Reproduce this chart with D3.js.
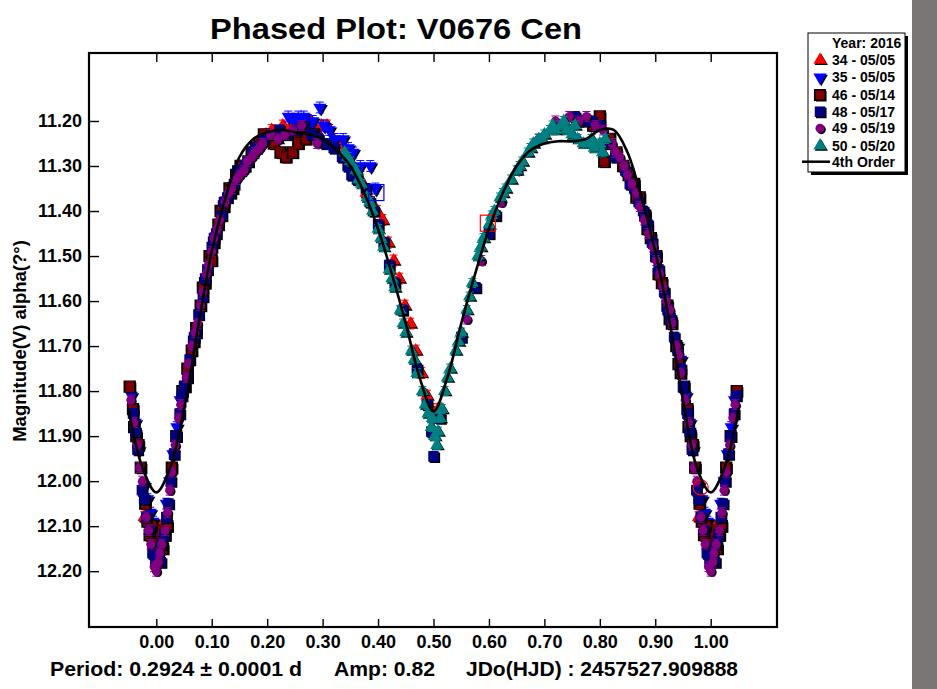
<!DOCTYPE html>
<html>
<head>
<meta charset="utf-8">
<script src="https://cdn.jsdelivr.net/npm/d3@7"></script>
<style>
body { margin: 0; background: #ffffff; }
svg { display: block; font-family: 'Liberation Sans', Arial, sans-serif; font-weight: bold; }
</style>
</head>
<body>
<svg id="chart" width="937" height="689"></svg>
<script>
// ---- chart texts ----
var strTitle = 'Phased Plot: V0676 Cen';
var strAxisY = 'Magnitude(V) alpha(?°)';
var strLegendTitle = 'Year: 2016';
var strFitLabel = '4th Order';
var aFooter = ['Period: 0.2924 \u00b1 0.0001 d', 'Amp: 0.82', 'JDo(HJD) : 2457527.909888'];

// ---- ticks ----
var aTicksX = [0.00, 0.10, 0.20, 0.30, 0.40, 0.50, 0.60, 0.70, 0.80, 0.90, 1.00];
var aTicksY = [11.20, 11.30, 11.40, 11.50, 11.60, 11.70, 11.80, 11.90, 12.00, 12.10, 12.20];

// ---- series (night - date) ----
var aSeriesLabels = ['34 - 05/05', '35 - 05/05', '46 - 05/14', '48 - 05/17', '49 - 05/19', '50 - 05/20'];

// observations [phase, magnitude]
var aObs34 = [[0.978,12.08],[0.988,12.11],[0.996,12.12],[0.004,12.10],[0.010,12.12],[0.016,12.10],
	[0.198,11.23],[0.208,11.22],[0.218,11.24],[0.228,11.21],[0.238,11.22],[0.248,11.23],[0.258,11.21],
	[0.268,11.22],[0.278,11.20],[0.288,11.22],[0.298,11.21],[0.308,11.21],[0.318,11.24],[0.328,11.25],
	[0.338,11.27],[0.348,11.29],[0.358,11.31],[0.368,11.33],[0.378,11.36],[0.388,11.38],[0.398,11.40],
	[0.408,11.42],[0.418,11.47],[0.428,11.51],[0.438,11.55],[0.448,11.61],[0.458,11.65],[0.468,11.71],
	[0.478,11.76],[0.488,11.81],[0.496,11.84],[0.502,11.86],[0.508,11.84]];

var aObs35 = [[0.238,11.19],[0.248,11.20],[0.256,11.19],[0.266,11.19],[0.274,11.21],[0.282,11.20],
	[0.295,11.17],[0.302,11.21],[0.312,11.22],[0.322,11.24],[0.337,11.24],[0.346,11.26],[0.355,11.27],
	[0.368,11.30],[0.386,11.30],[0.395,11.35],
	[0.940,11.70],[0.946,11.73],[0.955,11.81],[0.962,11.87],[0.968,11.93],[0.978,12.01],[0.984,12.04],
	[0.989,12.07],[0.994,12.09],[0.018,12.05],[0.024,12.00],[0.030,11.94],[0.037,11.88],[0.043,11.82]];

var aObs46 = [[0.000,12.17],[0.006,12.13],[0.012,12.15],[0.020,12.10],[0.028,11.97],[0.036,11.90],
	[0.047,11.80],[0.056,11.75],[0.064,11.71],[0.072,11.66],[0.080,11.61],[0.088,11.56],[0.096,11.50],
	[0.104,11.47],[0.112,11.43],[0.122,11.39],[0.132,11.35],[0.144,11.32],[0.158,11.30],[0.172,11.27],
	[0.186,11.25],[0.200,11.24],[0.212,11.25],[0.224,11.27],[0.234,11.28],[0.246,11.27],[0.256,11.25],
	[0.270,11.24],[0.284,11.23],
	[0.052,11.79],[0.068,11.69],[0.084,11.57],[0.100,11.51],[0.116,11.40],[0.138,11.35],[0.152,11.30],
	[0.166,11.29],[0.180,11.26],[0.194,11.23],[0.004,12.11],[0.016,12.12],
	[0.760,11.20],[0.788,11.21],[0.800,11.19],[0.808,11.29],[0.818,11.24],[0.830,11.27],[0.842,11.30],
	[0.852,11.32],[0.862,11.34],[0.872,11.37],[0.882,11.41],[0.892,11.46],[0.902,11.50],[0.912,11.56],
	[0.922,11.61],[0.930,11.65],[0.938,11.70],[0.946,11.76],[0.952,11.79],[0.958,11.84],[0.964,11.90],
	[0.972,11.97],[0.980,12.05],[0.988,12.12],[0.995,12.14],
	[0.866,11.37],[0.886,11.44],[0.906,11.54],[0.926,11.64],[0.942,11.74],[0.960,11.88],[0.968,11.92],
	[0.984,12.09],[0.992,12.10]];

var aObs48 = [[0.002,12.16],[0.008,12.18],[0.014,12.12],[0.022,12.05],[0.032,11.94],[0.042,11.85],
	[0.050,11.79],[0.060,11.73],[0.068,11.68],[0.076,11.63],[0.084,11.59],[0.092,11.53],[0.100,11.48],
	[0.108,11.45],[0.118,11.41],[0.128,11.37],[0.140,11.34],[0.152,11.31],[0.166,11.29],[0.180,11.26],
	[0.194,11.24],[0.208,11.23],[0.222,11.22],[0.236,11.23],[0.252,11.22],[0.266,11.21],[0.280,11.23],
	[0.292,11.24],[0.305,11.25],[0.320,11.26],[0.335,11.28],[0.345,11.30],[0.352,11.32],[0.362,11.33],
	[0.378,11.35],[0.385,11.38],[0.392,11.40],[0.400,11.43],[0.410,11.47],[0.420,11.52],[0.430,11.56],
	[0.444,11.62],[0.470,11.75],[0.488,11.83],[0.496,11.89],[0.500,11.945],[0.512,11.86],[0.550,11.68],
	[0.576,11.57],[0.600,11.45],[0.612,11.41],
	[0.046,11.81],[0.056,11.77],[0.072,11.67],[0.088,11.55],[0.104,11.46],[0.122,11.38],[0.134,11.36],
	[0.146,11.31],[0.160,11.30],[0.174,11.27],[0.010,12.14],[0.018,12.08],[0.026,12.00],[0.036,11.90],
	[0.730,11.21],[0.755,11.19],[0.770,11.20],[0.785,11.20],[0.800,11.21],[0.814,11.25],[0.828,11.28],
	[0.846,11.31],[0.862,11.35],[0.878,11.40],[0.894,11.47],[0.906,11.53],[0.916,11.58],[0.928,11.64],
	[0.940,11.71],[0.950,11.79],[0.958,11.85],[0.966,11.93],[0.974,12.02],[0.982,12.08],[0.988,12.11],
	[0.993,12.16],[0.998,12.18],
	[0.854,11.34],[0.870,11.38],[0.886,11.43],[0.900,11.50],[0.922,11.62],[0.934,11.68],[0.946,11.75],
	[0.962,11.89],[0.978,12.04]];

var aObs49 = [[0.000,12.20],[0.004,12.18],[0.010,12.14],[0.016,12.11],[0.024,12.02],[0.034,11.92],
	[0.044,11.83],[0.054,11.77],[0.064,11.70],[0.074,11.65],[0.084,11.58],[0.094,11.52],[0.104,11.46],
	[0.114,11.42],[0.124,11.38],[0.136,11.35],[0.150,11.32],[0.164,11.29],[0.178,11.27],[0.192,11.25],
	[0.206,11.23],[0.220,11.24],[0.232,11.23],[0.246,11.22],[0.262,11.21],[0.290,11.25],
	[0.040,11.86],[0.058,11.74],[0.070,11.67],[0.080,11.61],[0.090,11.54],[0.100,11.49],[0.110,11.44],
	[0.130,11.36],[0.144,11.33],[0.158,11.31],[0.172,11.28],[0.186,11.26],[0.006,12.16],[0.020,12.07],
	[0.028,11.98],
	[0.560,11.64],[0.586,11.51],[0.622,11.38],[0.652,11.31],[0.690,11.24],[0.720,11.20],[0.745,11.19],
	[0.762,11.20],[0.776,11.19],[0.792,11.21],[0.806,11.22],[0.822,11.25],[0.836,11.28],[0.850,11.32],
	[0.866,11.36],[0.880,11.42],[0.896,11.48],[0.908,11.54],[0.920,11.60],[0.930,11.65],[0.938,11.70],
	[0.946,11.76],[0.954,11.82],[0.960,11.87],[0.966,11.92],[0.975,12.00],[0.982,12.08],[0.990,12.14],
	[0.996,12.19],
	[0.828,11.27],[0.844,11.30],[0.858,11.34],[0.872,11.39],[0.888,11.45],[0.902,11.51],[0.914,11.57],
	[0.926,11.62],[0.942,11.72],[0.970,11.97],[0.986,12.11]];

var aObs50 = [[0.340,11.27],[0.350,11.29],[0.360,11.31],[0.370,11.34],[0.380,11.37],[0.390,11.40],
	[0.400,11.44],[0.410,11.48],[0.420,11.53],[0.430,11.57],[0.440,11.62],[0.450,11.67],[0.460,11.71],
	[0.470,11.76],[0.480,11.80],[0.490,11.85],[0.496,11.88],[0.502,11.90],[0.506,11.92],[0.512,11.86],
	[0.520,11.80],[0.530,11.75],[0.540,11.71],[0.550,11.67],[0.560,11.62],[0.570,11.56],[0.580,11.50],
	[0.590,11.46],[0.600,11.43],[0.610,11.40],[0.620,11.37],[0.630,11.35],[0.640,11.33],[0.650,11.31],
	[0.660,11.29],[0.670,11.27],[0.680,11.25],[0.690,11.24],[0.700,11.23],[0.710,11.22],[0.720,11.22],
	[0.730,11.21],[0.740,11.22],[0.750,11.23],[0.760,11.24],[0.770,11.25],[0.780,11.25],[0.790,11.26],
	[0.800,11.25],[0.810,11.24],
	[0.345,11.28],[0.365,11.33],[0.385,11.38],[0.405,11.46],[0.425,11.55],[0.445,11.65],[0.465,11.73],
	[0.485,11.83],[0.498,11.86],[0.508,11.89],[0.515,11.84],[0.525,11.77],[0.545,11.69],[0.565,11.59],
	[0.585,11.48],[0.605,11.41],[0.625,11.36],[0.655,11.30],[0.675,11.26],[0.695,11.24],[0.715,11.21],
	[0.735,11.20],[0.755,11.21],[0.785,11.24],[0.805,11.27]];

// typical error of one observation, per series (mag)
var aObsErr = [0.012, 0.012, 0.011, 0.011, 0.011, 0.010];

// highlighted (open) points [series index, phase, magnitude]
var aOpenPoints = [[1, 0.397, 11.359], [0, 0.598, 11.427], [0, 0.982, 12.014]];

// 4th order fit curve
var aFitPhase = [-0.050,-0.025,0.000,0.025,0.050,0.075,0.100,0.125,0.150,0.175,0.200,0.225,0.250,0.275,
	0.300,0.325,0.350,0.375,0.400,0.425,0.450,0.475,0.500,0.525,0.550,0.575,0.600,0.625,0.650,0.675,
	0.700,0.725,0.750,0.775,0.800,0.825,0.850,0.875,0.900,0.925,0.950,0.975,1.000,1.025,1.050];
var aFitMag = [11.84,11.97,12.025,11.97,11.84,11.66,11.49,11.37,11.28,11.24,11.225,11.22,11.225,11.23,
	11.24,11.265,11.30,11.36,11.44,11.54,11.65,11.77,11.845,11.77,11.65,11.54,11.44,11.36,11.30,11.265,
	11.25,11.245,11.245,11.24,11.22,11.22,11.27,11.37,11.49,11.64,11.82,11.97,12.025,11.97,11.84];

// ---- styles ----
var aSeriesColors = ['#ff0000', '#0000ff', '#800000', '#000080', '#800080', '#008080'];
var aSeriesShapes = ['up', 'down', 'square', 'square', 'circle', 'up'];
var aOpenShapes = ['square', 'square', 'circle'];

var aSeriesObs = [aObs34, aObs35, aObs46, aObs48, aObs49, aObs50];

var nPlotLeft = 89, nPlotRight = 777, nPlotTop = 53, nPlotBottom = 627;

var sSvg = d3.select('#chart');

var scaleX = d3.scaleLinear()
	.domain([-0.1214, 1.1196])
	.range([nPlotLeft, nPlotRight]);

var scaleY = d3.scaleLinear()
	.domain([11.049, 12.324])
	.range([nPlotTop, nPlotBottom]);

// right hand grey strip
sSvg.append('rect')
	.attr('x', 912).attr('y', 0)
	.attr('width', 25).attr('height', 689)
	.attr('fill', '#7b7676');

// title
sSvg.append('text')
	.attr('x', 210).attr('y', 39)
	.attr('font-size', 30)
	.attr('textLength', 372)
	.attr('lengthAdjust', 'spacingAndGlyphs')
	.text(strTitle);

// axes
var axisBottom = d3.axisBottom(scaleX)
	.tickValues(aTicksX)
	.tickSizeInner(-8).tickSizeOuter(0)
	.tickPadding(8)
	.tickFormat(d3.format('.2f'));

var axisTop = d3.axisTop(scaleX)
	.tickValues(aTicksX)
	.tickSizeInner(-9).tickSizeOuter(0)
	.tickFormat('');

var axisLeft = d3.axisLeft(scaleY)
	.tickValues(aTicksY)
	.tickSizeInner(-10).tickSizeOuter(0)
	.tickPadding(7)
	.tickFormat(d3.format('.2f'));

function StyleAxis(sAxis)
{
	sAxis.select('.domain').remove();
	sAxis.selectAll('.tick line').attr('stroke', '#000').attr('stroke-width', 1.4);
	sAxis.selectAll('.tick text')
		.attr('fill', '#000')
		.attr('font-size', 18)
		.attr('font-family', "'Liberation Sans', Arial, sans-serif")
		.attr('font-weight', 'bold');
}

var sAxisX = sSvg.append('g')
	.attr('transform', 'translate(0,' + nPlotBottom + ')')
	.call(axisBottom);
StyleAxis(sAxisX);

var sAxisTop = sSvg.append('g')
	.attr('transform', 'translate(0,' + nPlotTop + ')')
	.call(axisTop);
StyleAxis(sAxisTop);

var sAxisY = sSvg.append('g')
	.attr('transform', 'translate(' + nPlotLeft + ',0)')
	.call(axisLeft);
StyleAxis(sAxisY);

// y axis title
sSvg.append('text')
	.attr('transform', 'translate(26,341) rotate(-90)')
	.attr('text-anchor', 'middle')
	.attr('font-size', 18.5)
	.text(strAxisY);

// footer
var aFooterX = [50, 334, 466];
var aFooterLen = [252, 101, 272];
aFooter.forEach(function(strText, nIndex)
{
	sSvg.append('text')
		.attr('x', aFooterX[nIndex]).attr('y', 676)
		.attr('font-size', 21)
		.attr('textLength', aFooterLen[nIndex])
		.attr('lengthAdjust', 'spacingAndGlyphs')
		.text(strText);
});

// ---- data ----
function ExpandPhases(aObs)
{
	// points near the ends are repeated one cycle away
	var aOut = [];
	aObs.forEach(function(pt)
	{
		aOut.push([pt[0], pt[1]]);
		if (pt[0] < 0.05) aOut.push([pt[0] + 1, pt[1]]);
		if (pt[0] > 0.95) aOut.push([pt[0] - 1, pt[1]]);
	});
	return aOut;
}

function SymbolPath(strShape)
{
	if (strShape == 'square') return d3.symbol().type(d3.symbolSquare).size(110)();
	if (strShape == 'circle') return d3.symbol().type(d3.symbolCircle).size(65)();
	return d3.symbol().type(d3.symbolTriangle).size(75)();
}

var sPlot = sSvg.append('g');

aSeriesObs.forEach(function(aObs, nSeries)
{
	var aPoints = ExpandPhases(aObs);
	var strColor = aSeriesColors[nSeries];
	var strShape = aSeriesShapes[nSeries];
	var strPath = SymbolPath(strShape);
	var fErr = aObsErr[nSeries];
	var sSeries = sPlot.append('g');

	function PointTransform(pt, nOffset)
	{
		var strRot = (strShape == 'down') ? ' rotate(180)' : '';
		return 'translate(' + (scaleX(pt[0]) + nOffset) + ',' + (scaleY(pt[1]) + nOffset) + ')' + strRot;
	}

	// shadow
	sSeries.selectAll('.shadow')
		.data(aPoints)
		.enter()
		.append('path')
			.attr('class', 'shadow')
			.attr('d', strPath)
			.attr('fill', '#000')
			.attr('transform', function(pt) { return PointTransform(pt, 1.4); });

	sSeries.selectAll('.mark')
		.data(aPoints)
		.enter()
		.append('path')
			.attr('class', 'mark')
			.attr('d', strPath)
			.attr('fill', strColor)
			.attr('stroke', nSeries == 2 ? '#000' : 'none')
			.attr('stroke-width', 1.8)
			.attr('transform', function(pt) { return PointTransform(pt, 0); });

	// error bars
	var sBars = sSeries.selectAll('.err')
		.data(aPoints)
		.enter()
		.append('g')
			.attr('class', 'err')
			.attr('stroke', strColor)
			.attr('stroke-width', 1);
	sBars.append('line')
		.attr('x1', function(pt) { return scaleX(pt[0]); })
		.attr('x2', function(pt) { return scaleX(pt[0]); })
		.attr('y1', function(pt) { return scaleY(pt[1] - fErr); })
		.attr('y2', function(pt) { return scaleY(pt[1] + fErr); });
	[-1, 1].forEach(function(nSign)
	{
		sBars.append('line')
			.attr('x1', function(pt) { return scaleX(pt[0]) - 4; })
			.attr('x2', function(pt) { return scaleX(pt[0]) + 4; })
			.attr('y1', function(pt) { return scaleY(pt[1] + nSign * fErr); })
			.attr('y2', function(pt) { return scaleY(pt[1] + nSign * fErr); });
	});
});

// open highlighted points
aOpenPoints.forEach(function(pt, nIndex)
{
	var strColor = aSeriesColors[pt[0]];
	if (aOpenShapes[nIndex] == 'circle')
	{
		sPlot.append('circle')
			.attr('cx', scaleX(pt[1])).attr('cy', scaleY(pt[2]))
			.attr('r', 7.5)
			.attr('fill', 'none').attr('stroke', strColor).attr('stroke-width', 1.2);
	}
	else
	{
		sPlot.append('rect')
			.attr('x', scaleX(pt[1]) - 7.5).attr('y', scaleY(pt[2]) - 8)
			.attr('width', 15).attr('height', 16)
			.attr('fill', 'none').attr('stroke', strColor).attr('stroke-width', 1.2);
	}
});

// fit curve
var lineFit = d3.line()
	.x(function(d, i) { return scaleX(aFitPhase[i]); })
	.y(function(d, i) { return scaleY(aFitMag[i]); })
	.curve(d3.curveCatmullRom);

sPlot.append('path')
	.attr('d', lineFit(aFitPhase))
	.attr('fill', 'none')
	.attr('stroke', '#000')
	.attr('stroke-width', 2.6);

// frame
sSvg.append('rect')
	.attr('x', nPlotLeft).attr('y', nPlotTop)
	.attr('width', nPlotRight - nPlotLeft).attr('height', nPlotBottom - nPlotTop)
	.attr('fill', 'none')
	.attr('stroke', '#000')
	.attr('stroke-width', 2.2);

// ---- legend ----
var nLegX = 808, nLegY = 33, nLegW = 97, nLegH = 139;
sSvg.append('rect')
	.attr('x', nLegX + 3).attr('y', nLegY + 3)
	.attr('width', nLegW).attr('height', nLegH)
	.attr('fill', '#000');
sSvg.append('rect')
	.attr('x', nLegX).attr('y', nLegY)
	.attr('width', nLegW).attr('height', nLegH)
	.attr('fill', '#fff').attr('stroke', '#000').attr('stroke-width', 1);

sSvg.append('text')
	.attr('x', 832).attr('y', 47.5)
	.attr('font-size', 14)
	.text(strLegendTitle);

var aLegRowY = [60, 77.3, 95, 111.7, 128.3, 145.7];
aSeriesLabels.forEach(function(strLabel, nSeries)
{
	var nY = aLegRowY[nSeries];
	var strShape = aSeriesShapes[nSeries];
	var strRot = (strShape == 'down') ? ' rotate(180)' : '';
	sSvg.append('path')
		.attr('d', SymbolPath(strShape))
		.attr('fill', '#000')
		.attr('transform', 'translate(' + 821.3 + ',' + (nY + 1.3) + ')' + strRot);
	sSvg.append('path')
		.attr('d', SymbolPath(strShape))
		.attr('fill', aSeriesColors[nSeries])
		.attr('stroke', nSeries == 2 ? '#000' : 'none')
		.attr('stroke-width', 1.6)
		.attr('transform', 'translate(' + 820 + ',' + nY + ')' + strRot);
	sSvg.append('text')
		.attr('x', 832).attr('y', nY + 5)
		.attr('font-size', 14)
		.text(strLabel);
});

sSvg.append('line')
	.attr('x1', 802).attr('x2', 830)
	.attr('y1', 161.7).attr('y2', 161.7)
	.attr('stroke', '#000').attr('stroke-width', 2.5);
sSvg.append('text')
	.attr('x', 832).attr('y', 166.7)
	.attr('font-size', 14)
	.text(strFitLabel);
</script>
</body>
</html>
